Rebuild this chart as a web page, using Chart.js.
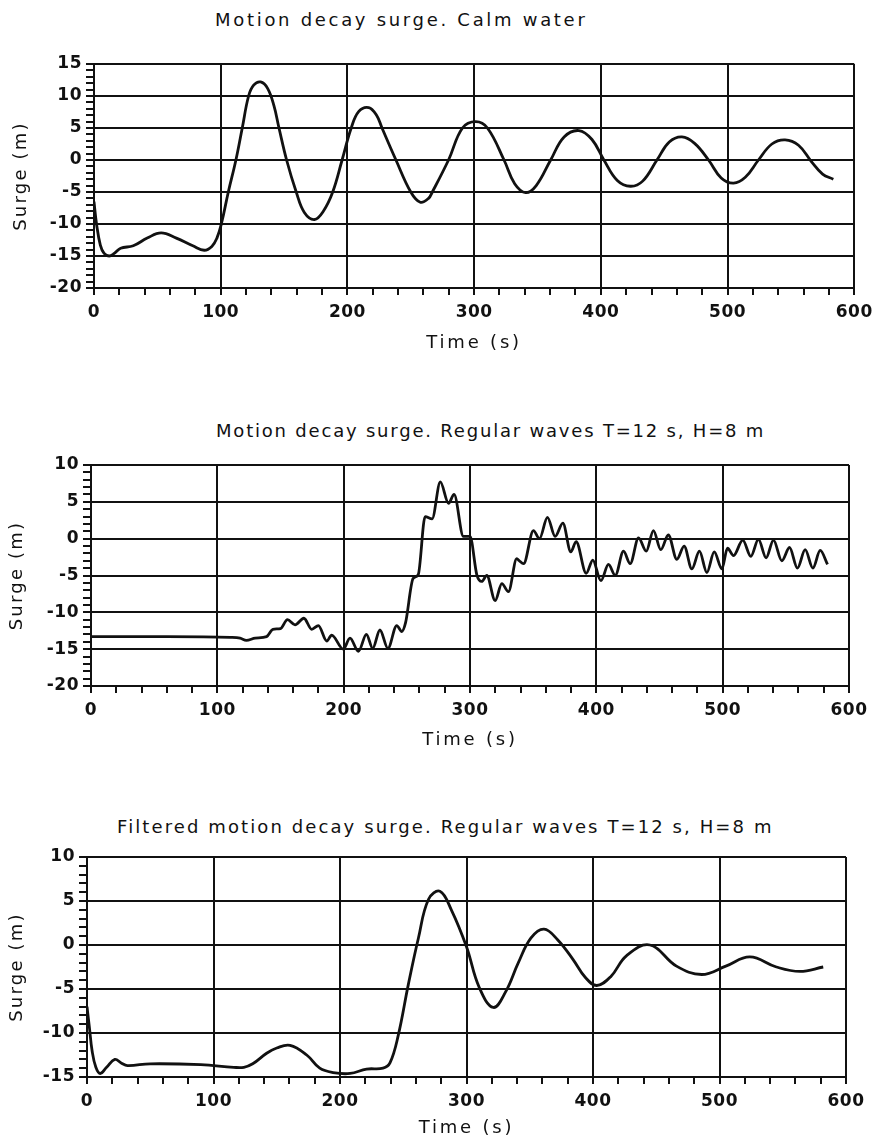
<!DOCTYPE html>
<html lang="en">
<head>
  <meta charset="UTF-8" />
  <title>Motion decay surge</title>
  <script src="https://cdn.jsdelivr.net/npm/chart.js"></script>
  <style>
    body { margin: 0; background: #fff; }
    #page { position: relative; width: 879px; height: 1140px; overflow: hidden; }
    .box { position: absolute; left: 0; width: 879px; }
    .ttl { position: absolute; font-family: "DejaVu Sans", sans-serif; font-size: 18px;
           color: #111; white-space: nowrap; }
  </style>
</head>
<body>
  <div id="page">
    <div class="ttl" style="left:215px; top:9px; letter-spacing:2.7px;">Motion decay surge. Calm water</div>
    <div class="box" style="top:0; height:370px;"><canvas id="calm"></canvas></div>

    <div class="ttl" style="left:216px; top:420px; letter-spacing:1.8px;">Motion decay surge. Regular waves T=12 s, H=8 m</div>
    <div class="box" style="top:380px; height:390px;"><canvas id="waves"></canvas></div>

    <div class="ttl" style="left:117px; top:816px; letter-spacing:2.1px;">Filtered motion decay surge. Regular waves T=12 s, H=8 m</div>
    <div class="box" style="top:780px; height:360px;"><canvas id="filtered"></canvas></div>
  </div>

  <script>
    // Calm water decay (top plot), values read against the grid lines
    const calmTime = [0, 2, 5, 8, 12, 16, 21, 31, 42, 53, 65, 78, 87, 93, 97, 100.5, 106, 112, 117, 122,
      126, 131.5, 137, 142, 146, 152, 159.6, 166, 174, 181, 188.4, 195.8, 203, 209, 216.8, 223, 227.3, 238.3,
      250, 257.5, 264, 267, 279.8, 290.8, 301.3, 310.5, 323.6, 332, 340.7, 349, 360.4, 371, 382.7,
      393, 402.4, 413, 423.4, 433, 444.3, 454, 464, 474, 485, 495, 504.7, 514, 524.4, 535, 545.4, 556,
      566, 575, 583.5];
    const calmSurge = [-6.5, -10, -13.3, -14.6, -15, -14.6, -13.8, -13.4, -12.2, -11.4, -12.2, -13.4, -14.1, -13.5, -12.2, -10, -5, 0, 5, 10,
      11.7, 12.2, 11.2, 8.5, 5, 0, -5, -8.2, -9.3, -8, -5, 0, 5, 7.6, 8.2, 7.0, 5, 0,
      -5, -6.6, -6.0, -5, 0, 5, 6.0, 5, 0, -3.7, -5.1, -4, 0, 3.6, 4.6,
      3.2, 0, -3.2, -4.1, -3.3, 0, 2.8, 3.6, 2.6, 0, -2.8, -3.6, -2.7, 0, 2.5, 3.15, 2.3,
      -0.2, -2.2, -3.0];

    // Regular waves T=12 s, H=8 m (middle plot)
    const wavesTime = [0, 60, 110, 118, 123, 130, 139, 144, 150, 155.5, 161.5, 168.5, 174.7, 180, 186.6, 190.5,
      199.7, 205, 211.7, 218, 223, 228.7, 235, 242, 246, 249, 255, 259, 264.5, 270, 276.5, 283, 287.4, 294.8,
      300, 305.4, 309.3, 313.3, 319.9, 325.2, 330.4, 337, 339, 342.4, 350.2, 355, 361.3, 367.4, 373.5, 379.8,
      384, 392, 397.2, 403.6, 409.6, 415, 421.5, 426.8, 433.4, 439.5, 445.2, 451, 457, 463.7, 469.5, 475.6,
      481.6, 487.5, 493.3, 499.4, 503.8, 508.6, 515.9, 522.3, 528.3, 534.4, 540.2, 546.8, 552.9, 559.2, 565.3,
      571.4, 577.2, 583];
    const wavesSurge = [-13.3, -13.3, -13.4, -13.5, -13.8, -13.5, -13.3, -12.3, -12.2, -11.0, -11.7, -10.8, -12.3, -11.8, -13.9, -13.1,
      -15.0, -13.5, -15.3, -13.0, -14.9, -12.4, -14.9, -11.8, -12.6, -11.4, -5.4, -4.9, 3.0, 2.7, 7.7, 4.8, 6.0, 0.3,
      0.3, -4.9, -5.8, -5.0, -8.4, -6.1, -7.2, -2.7, -3.0, -3.4, 1.1, 0, 2.9, 0.3, 2.1, -1.8,
      -0.4, -4.7, -2.9, -5.7, -3.5, -5.0, -1.7, -3.4, 0.1, -1.7, 1.1, -1.5, 0.5, -2.8, -1.0, -4.1,
      -1.7, -4.6, -1.8, -4.1, -1.3, -2.3, -0.2, -2.4, -0.1, -2.6, -0.2, -3.0, -1.2, -4.0, -1.5,
      -4.0, -1.6, -3.5];

    // Filtered record (bottom plot)
    const filtTime = [0, 2, 4, 7, 10.5, 15.5, 22, 27, 32, 50, 90, 116, 124, 131, 142, 150, 160.5, 173.7, 184,
      194.6, 208, 221, 234, 239.5, 246, 254, 262, 270, 279, 288, 300, 310, 321.2, 331, 341, 351, 361.3,
      372, 384, 394, 403, 414, 426.6, 445, 466, 486, 505, 524, 545, 563.6, 582];
    const filtSurge = [-7, -9.5, -12, -13.9, -14.6, -13.9, -13.0, -13.4, -13.7, -13.5, -13.6, -13.9, -13.9, -13.5, -12.3, -11.7, -11.4, -12.5, -14.0,
      -14.5, -14.6, -14.1, -14.0, -13.4, -10.3, -4.5, 0.8, 5.2, 6.1, 4.0, -0.2, -4.8, -7.1, -5.3, -2.0, 0.8, 1.8,
      0.6, -1.6, -3.7, -4.6, -3.6, -1.2, 0, -2.4, -3.35, -2.4, -1.35, -2.5, -3.0, -2.5];

    const INK = '#111';
    const tickFont = { family: 'DejaVu Sans', size: 17, weight: 'bold' };
    const labelFont = { family: 'DejaVu Sans', size: 18 };

    // plotter-style lettering: a bit of spacing on ticks, more on axis titles
    const spacedText = {
      id: 'spacedText',
      beforeDraw(chart) { chart.ctx.letterSpacing = '0.5px'; },
      afterLayout(chart) {
        Object.values(chart.scales).forEach(s => {
          if (s._spaced) return;
          const orig = s.drawTitle;
          s.drawTitle = function () {
            const ctx = this.ctx;
            ctx.save();
            ctx.letterSpacing = this.axis === 'x' ? '2.8px' : '2.2px';
            orig.apply(this, arguments);
            ctx.restore();
          };
          s._spaced = true;
        });
      }
    };

    function makeChart(id, time, surge, o) {
      const points = time.map((t, i) => ({ x: t, y: surge[i] }));
      return new Chart(document.getElementById(id), {
        type: 'line',
        data: {
          datasets: [{
            data: points,
            borderColor: INK,
            borderWidth: 2.8,
            pointRadius: 0,
            tension: 0.4,
            cubicInterpolationMode: o.mode,
            fill: false
          }]
        },
        plugins: [spacedText],
        options: {
          responsive: true,
          maintainAspectRatio: false,
          animation: false,
          events: [],
          layout: { padding: o.pad },
          plugins: { legend: { display: false }, tooltip: { enabled: false } },
          scales: {
            x: {
              type: 'linear',
              min: 0, max: 600,
              afterFit: s => { s.height = o.xHeight; },
              border: { color: INK, width: 2 },
              grid: {
                color: c => c.tick && c.tick.value % 100 === 0 ? INK : 'rgba(0,0,0,0)',
                tickColor: INK,
                lineWidth: 2,
                tickLength: 7
              },
              ticks: {
                stepSize: 20,
                autoSkip: false,
                maxRotation: 0,
                padding: 7,
                color: INK,
                font: tickFont,
                callback: v => v % 100 === 0 ? v : ''
              },
              title: {
                display: true, text: 'Time (s)', color: INK, font: labelFont,
                padding: { top: 0, bottom: o.xTitlePad }
              }
            },
            y: {
              min: o.yMin, max: o.yMax,
              afterFit: s => { s.width = o.yWidth; },
              border: { color: INK, width: 2 },
              grid: {
                color: c => c.tick && c.tick.value % 5 === 0 ? INK : 'rgba(0,0,0,0)',
                tickColor: INK,
                lineWidth: 2,
                tickLength: 8
              },
              ticks: {
                stepSize: 1,
                autoSkip: false,
                padding: 4,
                color: INK,
                font: tickFont,
                callback: v => v % 5 === 0 ? v : ''
              },
              title: {
                display: true, text: 'Surge (m)', color: INK, font: labelFont,
                padding: { top: o.yTitlePad, bottom: 0 }
              }
            }
          }
        }
      });
    }

    makeChart('calm', calmTime, calmSurge, {
      yMin: -20, yMax: 15, yWidth: 94, xHeight: 82, mode: 'default',
      pad: { top: 64, right: 24, left: 0, bottom: 0 }, xTitlePad: 16, yTitlePad: 11
    });
    makeChart('waves', wavesTime, wavesSurge, {
      yMin: -20, yMax: 10, yWidth: 91, xHeight: 84, mode: 'monotone',
      pad: { top: 85, right: 30, left: 0, bottom: 0 }, xTitlePad: 19, yTitlePad: 7
    });
    makeChart('filtered', filtTime, filtSurge, {
      yMin: -15, yMax: 10, yWidth: 87, xHeight: 63, mode: 'default',
      pad: { top: 77, right: 33, left: 0, bottom: 0 }, xTitlePad: 1, yTitlePad: 7
    });
  </script>
</body>
</html>
